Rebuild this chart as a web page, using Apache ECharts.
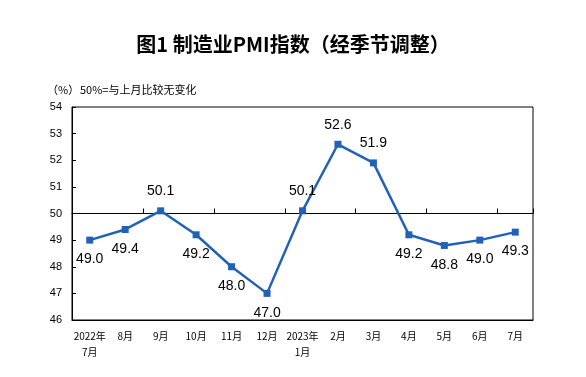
<!DOCTYPE html>
<html>
<head>
<meta charset="utf-8">
<script src="https://cdn.jsdelivr.net/npm/echarts@6/dist/echarts.min.js"></script>
<style>
  html, body { margin: 0; padding: 0; background: #fff; }
  #main { width: 586px; height: 377px; }
</style>
</head>
<body>
<div id="main"></div>
<script>
// 月份（类目）
var months = ['2022年\n7月', '8月', '9月', '10月', '11月', '12月', '2023年\n1月', '2月', '3月', '4月', '5月', '6月', '7月'];
// 制造业PMI
var pmi = [49.0, 49.4, 50.1, 49.2, 48.0, 47.0, 50.1, 52.6, 51.9, 49.2, 48.8, 49.0, 49.3];
// 数据标签在点的上方还是下方
var labelPos = ['bottom', 'bottom', 'top', 'bottom', 'bottom', 'bottom', 'top', 'top', 'top', 'bottom', 'bottom', 'bottom', 'bottom'];

var chart = echarts.init(document.getElementById('main'));

var option = {
  animation: false,
  title: {
    text: '图1 制造业PMI指数（经季节调整）',
    left: 'center',
    top: 29,
    textStyle: { fontSize: 20, fontWeight: 'bold', color: '#000', fontFamily: 'Noto Sans CJK SC' }
  },
  graphic: [
    { type: 'text', left: 47, top: 84, style: { text: '（%）', fontSize: 11, fill: '#000', fontFamily: 'Noto Sans CJK SC' } },
    { type: 'text', left: 80, top: 84, style: { text: '50%=与上月比较无变化', fontSize: 11, fill: '#000', fontFamily: 'Noto Sans CJK SC' } }
  ],
  grid: {
    left: 72, right: 53, top: 107, bottom: 57,
    show: true, borderColor: '#000', borderWidth: 1
  },
  xAxis: [
    {
      type: 'category',
      data: months,
      boundaryGap: true,
      axisLine: { show: true, lineStyle: { color: '#000' } },
      axisTick: { show: false },
      axisLabel: { color: '#000', fontSize: 10, margin: 8, lineHeight: 16, interval: 0, fontFamily: 'Noto Sans CJK SC' }
    },
    {
      // 50 处的横线及刻度
      type: 'category',
      data: months,
      position: 'bottom',
      offset: -106.5,
      boundaryGap: true,
      axisLine: { show: true, lineStyle: { color: '#000' } },
      axisTick: { show: true, inside: true, length: 5, lineStyle: { color: '#000' } },
      axisLabel: { show: false }
    }
  ],
  yAxis: {
    type: 'value',
    min: 46, max: 54, interval: 1,
    axisLine: { show: true, lineStyle: { color: '#000' } },
    axisTick: { show: true, inside: true, length: 4, lineStyle: { color: '#000' } },
    axisLabel: { color: '#000', fontSize: 11, margin: 10, fontFamily: 'Liberation Sans' },
    splitLine: { show: false }
  },
  series: [
    {
      type: 'line',
      data: pmi.map(function (v, i) {
        return { value: v, label: { position: labelPos[i] } };
      }),
      symbol: 'rect',
      symbolSize: 7,
      lineStyle: { color: '#2262b6', width: 2.5 },
      itemStyle: { color: '#2262b6' },
      label: {
        show: true,
        distance: 9,
        fontSize: 14,
        color: '#000',
        fontFamily: 'Liberation Sans',
        formatter: function (p) { return p.value.toFixed(1); }
      }
    }
  ]
};

chart.setOption(option);
window.addEventListener('resize', function () { chart.resize(); });
</script>
</body>
</html>
